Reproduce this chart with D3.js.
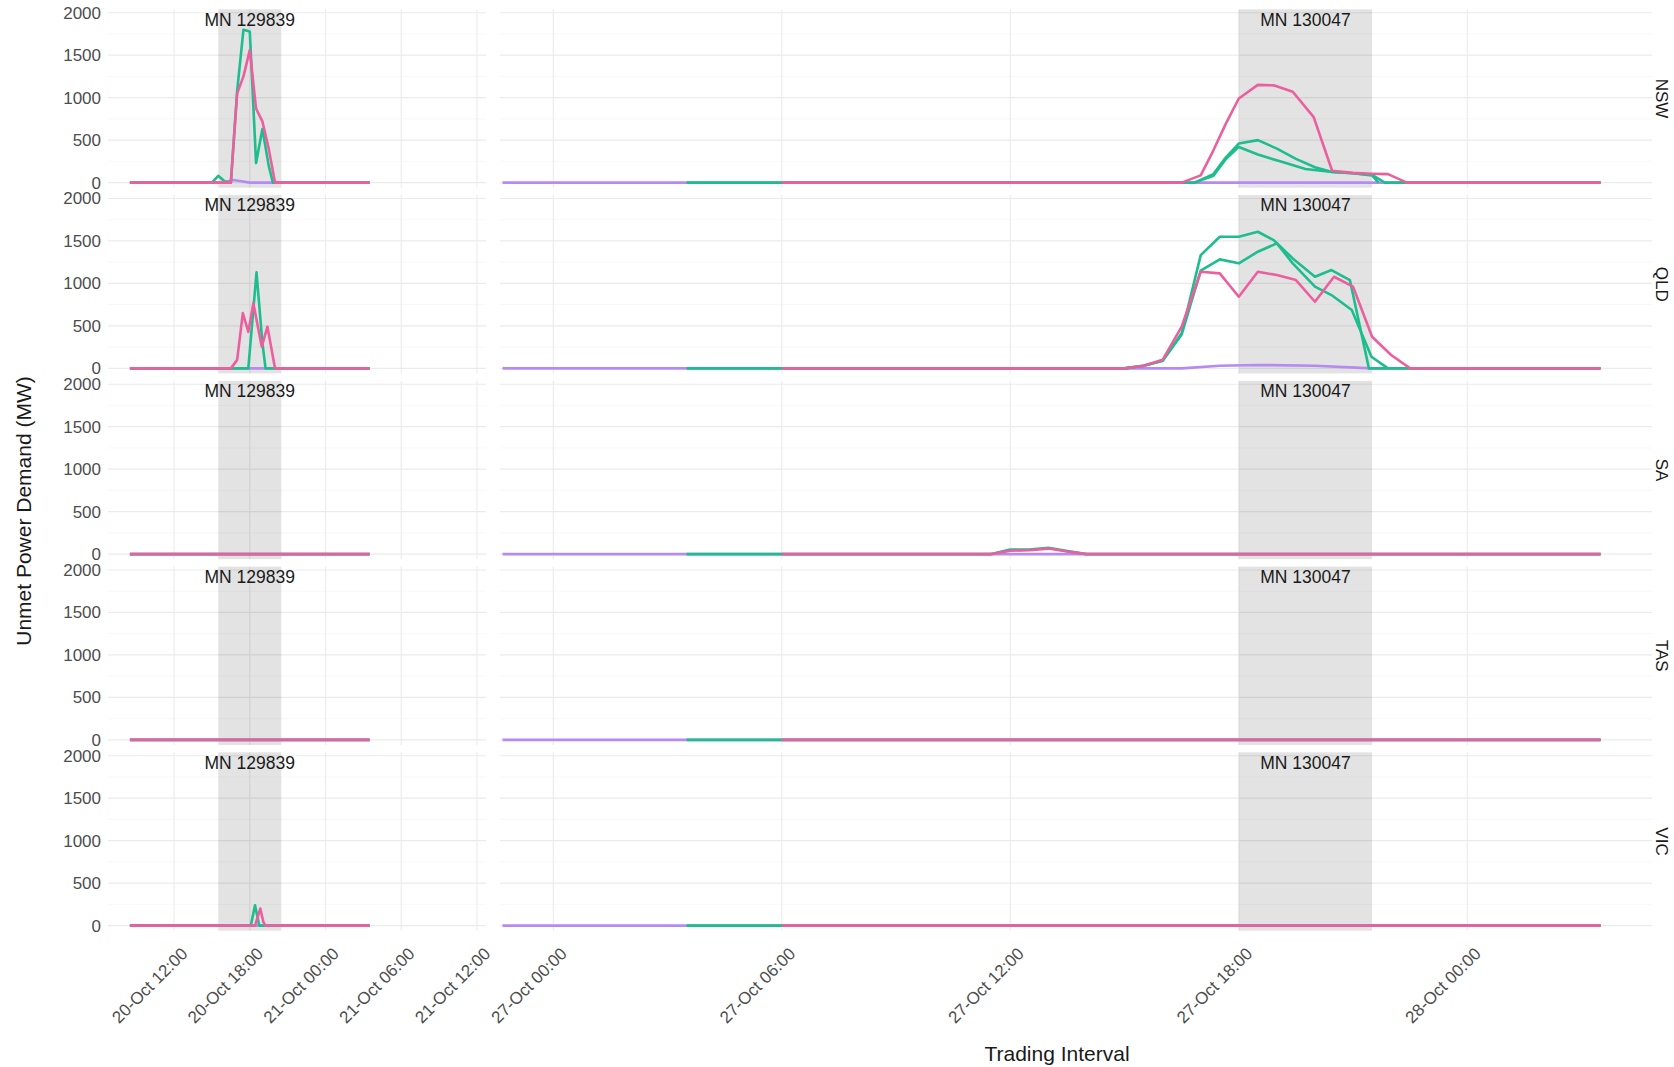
<!DOCTYPE html>
<html>
<head>
  <meta charset="utf-8">
  <title>Unmet power demand by region</title>
  <style>
    body { margin: 0; background: #fff; }
    text { font-family: "Liberation Sans", Arial, sans-serif; }
  </style>
</head>
<body>
  <svg width="1674" height="1067"></svg>
  <script src="https://d3js.org/d3.v7.min.js"></script>
  <script>

  // ---- data (times are "day hh:mm" in October) ----
  var regions = ["NSW", "QLD", "SA", "TAS", "VIC"];
  var yTicks = [0, 500, 1000, 1500, 2000];
  var yMinor = [250, 750, 1250, 1750];
  var leftTicks = ["20 12:00", "20 18:00", "21 00:00", "21 06:00", "21 12:00"];
  var rightTicks = ["27 00:00", "27 06:00", "27 12:00", "27 18:00", "28 00:00"];
  var eventLabels = ["MN 129839", "MN 130047"];
  var eventStart = ["20 15:30", "27 18:00"];
  var eventEnd = ["20 20:30", "27 21:30"];

  var NSW_purple = [["20 08:30",0],["20 16:00",0],["20 16:40",30],["20 17:20",15],["20 18:00",0],["21 03:30",0],
    ["26 22:40",0],["28 03:30",0]];
  var NSW_green = [["20 08:30",0],["20 15:00",0],["20 15:30",80],["20 16:00",15],["20 16:30",0],["20 17:00",1080],
    ["20 17:30",1800],["20 18:00",1780],["20 18:30",230],["20 19:00",630],["20 19:30",200],["20 19:50",0],["21 03:30",0],
    ["27 03:30",0],["27 16:50",0],["27 17:20",100],["27 17:40",300],["27 18:00",460],["27 18:30",500],["27 19:00",400],
    ["27 19:30",280],["27 20:00",180],["27 20:27",125],["27 21:00",110],["27 21:30",90],["27 21:50",0],["28 03:30",0]];
  var NSW_green2 = [["27 16:50",0],["27 17:20",80],["27 17:40",280],["27 18:00",420],["27 18:30",330],["27 19:05",250],
    ["27 19:45",160],["27 20:27",125],["27 21:00",110],["27 21:30",85],["27 21:40",0]];
  var NSW_pink = [["20 08:30",0],["20 16:30",0],["20 17:00",1050],["20 17:30",1250],["20 18:00",1560],["20 18:30",870],
    ["20 19:00",720],["20 19:30",400],["20 20:00",0],["21 03:30",0],
    ["27 06:00",0],["27 16:30",0],["27 17:00",85],["27 17:20",380],["27 17:40",700],["27 18:00",990],["27 18:30",1150],
    ["27 18:55",1145],["27 19:25",1070],["27 19:58",770],["27 20:27",140],["27 21:00",115],["27 21:30",105],
    ["27 21:55",100],["27 22:25",0],["28 03:30",0]];

  var QLD_purple = [["20 08:30",0],["21 03:30",0],
    ["26 22:40",0],["27 16:30",0],["27 17:30",30],["27 18:30",40],["27 20:00",30],["27 21:30",0],["28 03:30",0]];
  var QLD_green = [["20 08:30",0],["20 17:53",0],["20 18:32",1130],["20 19:00",300],["20 19:15",0],["21 03:30",0],
    ["27 03:30",0],["27 15:00",0],["27 15:30",30],["27 16:00",90],["27 16:30",412],["27 17:00",1333],["27 17:30",1549],
    ["27 18:00",1549],["27 18:30",1608],["27 18:55",1510],["27 19:25",1294],["27 20:00",1078],["27 20:26",1157],
    ["27 20:55",1039],["27 21:25",0],["28 03:30",0]];
  var QLD_green2 = [["27 15:00",0],["27 15:30",30],["27 16:00",90],["27 16:30",400],["27 17:00",1150],["27 17:30",1283],
    ["27 18:00",1236],["27 18:30",1373],["27 19:00",1471],["27 19:25",1236],["27 20:00",961],["27 20:26",863],
    ["27 20:58",686],["27 21:29",137],["27 21:55",0]];
  var QLD_pink = [["20 08:30",0],["20 16:30",0],["20 17:00",100],["20 17:27",650],["20 17:53",430],["20 18:17",765],
    ["20 18:57",255],["20 19:24",490],["20 20:00",0],["21 03:30",0],
    ["27 06:00",0],["27 15:00",0],["27 15:30",30],["27 16:00",100],["27 16:30",490],["27 17:00",1137],["27 17:30",1118],
    ["27 18:00",843],["27 18:30",1137],["27 19:00",1098],["27 19:30",1039],["27 20:00",784],["27 20:30",1078],
    ["27 21:00",961],["27 21:30",372],["27 22:00",157],["27 22:30",0],["28 03:30",0]];

  var SA_purple = [["20 08:30",0],["21 03:30",0],["26 22:40",0],["28 03:30",0]];
  var SA_green = [["20 08:30",0],["21 03:30",0],
    ["27 03:30",0],["27 11:30",0],["27 12:00",55],["27 12:30",55],["27 13:00",75],["27 13:30",35],["27 14:00",0],["28 03:30",0]];
  var SA_pink = [["20 08:30",0],["21 03:30",0],
    ["27 06:00",0],["27 11:30",0],["27 12:00",40],["27 12:30",45],["27 13:00",65],["27 13:30",30],["27 14:00",0],["28 03:30",0]];

  var TAS_purple = [["20 08:30",0],["21 03:30",0],["26 22:40",0],["28 03:30",0]];
  var TAS_green = [["20 08:30",0],["21 03:30",0],["27 03:30",0],["28 03:30",0]];
  var TAS_pink = [["20 08:30",0],["21 03:30",0],["27 06:00",0],["28 03:30",0]];

  var VIC_purple = [["20 08:30",0],["21 03:30",0],["26 22:40",0],["28 03:30",0]];
  var VIC_green = [["20 08:30",0],["20 18:05",0],["20 18:25",240],["20 18:45",0],["21 03:30",0],
    ["27 03:30",0],["28 03:30",0]];
  var VIC_pink = [["20 08:30",0],["20 18:25",0],["20 18:50",200],["20 19:05",40],["20 19:15",0],["21 03:30",0],
    ["27 06:00",0],["28 03:30",0]];

  // drawing order: purple, green, pink on top
  var series = [
    ["NSW","purple",NSW_purple],["NSW","green",NSW_green],["NSW","green",NSW_green2],["NSW","pink",NSW_pink],
    ["QLD","purple",QLD_purple],["QLD","green",QLD_green],["QLD","green",QLD_green2],["QLD","pink",QLD_pink],
    ["SA","purple",SA_purple],["SA","green",SA_green],["SA","pink",SA_pink],
    ["TAS","purple",TAS_purple],["TAS","green",TAS_green],["TAS","pink",TAS_pink],
    ["VIC","purple",VIC_purple],["VIC","green",VIC_green],["VIC","pink",VIC_pink]
  ];

  // ---- layout ----
  var colours = { purple: "#b58af3", green: "#1dbd8e", pink: "#ec5f9f" };
  var parse = function(s) { return d3.timeParse("%Y-%m-%d %H:%M")("2025-10-" + s); };
  var fmt = d3.timeFormat("%d-%b %H:%M");

  var rowTop = 9.3, rowPitch = 185.75, rowH = 178.4;
  var panels = [
    { x0: 108, x1: 486, from: "20 06:46", to: "21 12:43", ticks: leftTicks, ev: 0 },
    { x0: 500, x1: 1652, from: "26 22:36", to: "28 04:51", ticks: rightTicks, ev: 1 }
  ];
  panels.forEach(function(p) {
    p.x = d3.scaleTime().domain([parse(p.from), parse(p.to)]).range([p.x0, p.x1]);
  });

  var svg = d3.select("svg");

  regions.forEach(function(region, i) {
    var top = rowTop + i * rowPitch;
    var y = d3.scaleLinear().domain([-60, 2040]).range([top + rowH, top]);
    var row = svg.append("g").attr("class", "row");

    panels.forEach(function(p) {
      var g = row.append("g");
      // grid
      g.selectAll(".minor").data(yMinor).enter().append("line")
        .attr("x1", p.x0).attr("x2", p.x1)
        .attr("y1", function(d) { return y(d); }).attr("y2", function(d) { return y(d); })
        .attr("stroke", "#f3f3f3").attr("stroke-width", 0.6);
      g.selectAll(".major").data(yTicks).enter().append("line")
        .attr("x1", p.x0).attr("x2", p.x1)
        .attr("y1", function(d) { return y(d); }).attr("y2", function(d) { return y(d); })
        .attr("stroke", "#ebebeb").attr("stroke-width", 1.1);
      g.selectAll(".vgrid").data(p.ticks).enter().append("line")
        .attr("x1", function(d) { return p.x(parse(d)); }).attr("x2", function(d) { return p.x(parse(d)); })
        .attr("y1", top).attr("y2", top + rowH)
        .attr("stroke", "#ebebeb").attr("stroke-width", 1.1);

      // event shading
      var xs = p.x(parse(eventStart[p.ev])), xe = p.x(parse(eventEnd[p.ev]));
      g.append("rect")
        .attr("x", xs).attr("y", top).attr("width", xe - xs).attr("height", rowH)
        .attr("fill", "#000").attr("fill-opacity", 0.11);

      // lines
      var t0 = parse(p.from), t1 = parse(p.to);
      var line = d3.line()
        .x(function(d) { return p.x(d.t); })
        .y(function(d) { return y(d.v); });
      series.filter(function(s) { return s[0] === region; }).forEach(function(s) {
        var pts = s[2].map(function(d) { return { t: parse(d[0]), v: d[1] }; })
          .filter(function(d) { return d.t >= t0 && d.t <= t1; });
        if (pts.length < 2) return;
        g.append("path")
          .attr("d", line(pts))
          .attr("fill", "none")
          .attr("stroke", colours[s[1]])
          .attr("stroke-width", 2.6)
          .attr("stroke-linejoin", "round");
      });

      // event label
      g.append("text")
        .attr("x", (xs + xe) / 2).attr("y", y(2000) + 13)
        .attr("text-anchor", "middle")
        .attr("font-size", 17.5).attr("fill", "#1a1a1a")
        .text(eventLabels[p.ev]);
    });

    // y axis labels
    var ay = row.append("g")
      .attr("transform", "translate(103,0)")
      .call(d3.axisLeft(y).tickValues(yTicks).tickFormat(d3.format("d")).tickSize(0).tickPadding(2));
    ay.select(".domain").remove();
    ay.selectAll("text").attr("font-size", 17).attr("fill", "#4d4d4d")
      .style("font-family", "'Liberation Sans', Arial, sans-serif");

    // strip label
    row.append("text")
      .attr("transform", "translate(1656," + (top + rowH / 2) + ") rotate(90)")
      .attr("text-anchor", "middle")
      .attr("font-size", 17).attr("fill", "#1a1a1a")
      .text(region);
  });

  // x axes under the last row
  var bottom = rowTop + (regions.length - 1) * rowPitch + rowH;
  panels.forEach(function(p) {
    var ax = svg.append("g")
      .attr("transform", "translate(0," + bottom + ")")
      .call(d3.axisBottom(p.x).tickValues(p.ticks.map(parse)).tickFormat(fmt).tickSize(0));
    ax.select(".domain").remove();
    ax.selectAll("text")
      .attr("x", 0).attr("y", 0).attr("dy", "0.75em")
      .attr("text-anchor", "end")
      .attr("transform", "translate(5,15) rotate(-45)")
      .attr("font-size", 17).attr("fill", "#4d4d4d")
      .style("font-family", "'Liberation Sans', Arial, sans-serif");
  });

  // axis titles
  svg.append("text")
    .attr("transform", "translate(31,511) rotate(-90)")
    .attr("text-anchor", "middle")
    .attr("font-size", 21).attr("fill", "#1a1a1a")
    .text("Unmet Power Demand (MW)");

  svg.append("text")
    .attr("x", 1057).attr("y", 1061)
    .attr("text-anchor", "middle")
    .attr("font-size", 21).attr("fill", "#1a1a1a")
    .text("Trading Interval");

  </script>
</body>
</html>
